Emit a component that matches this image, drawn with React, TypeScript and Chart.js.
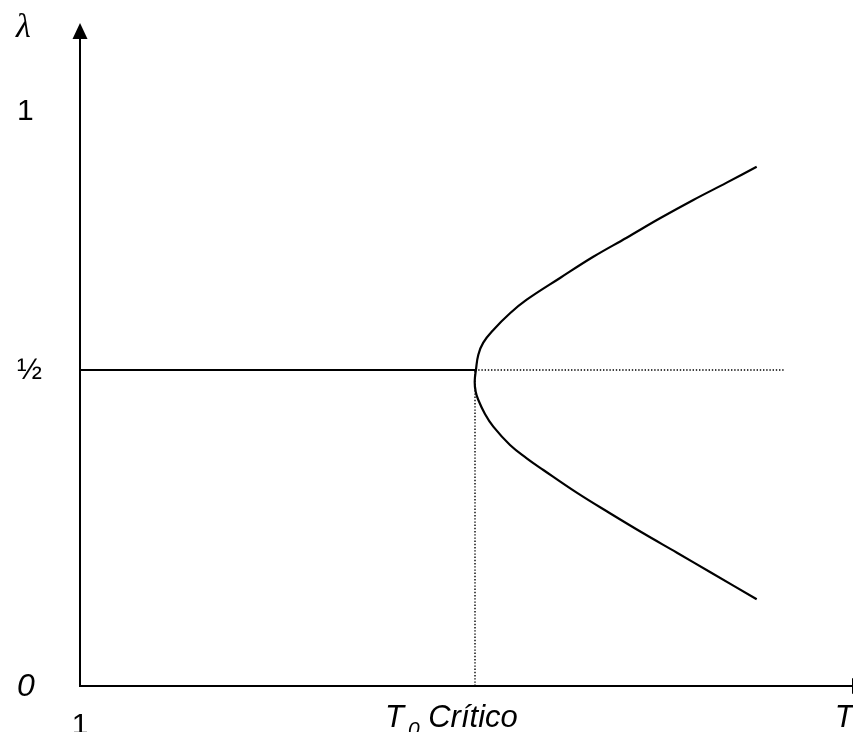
import React, { useEffect, useRef } from 'react';
import { Chart, registerables } from 'chart.js';

Chart.register(...registerables);

// ---- data (arbitrary T units 0..100, lambda units) ----
const upperBranchT = [87.54, 83.66, 79.34, 75.03, 70.72, 66.4, 62.1, 57.79, 55.63, 53.47, 52.17, 51.53, 51.23];
const upperBranchLambda = [0.8217, 0.7964, 0.769, 0.74, 0.7093, 0.6791, 0.6456, 0.6112, 0.5897, 0.5633, 0.5432, 0.5242, 0.5011];
const lowerBranchT = [51.06, 51.19, 51.53, 52.39, 53.47, 55.63, 57.79, 59.94, 64.26, 68.56, 72.87, 77.23, 81.5, 87.54];
const lowerBranchLambda = [0.4815, 0.4657, 0.4525, 0.4304, 0.4103, 0.3813, 0.3603, 0.3418, 0.3059, 0.2733, 0.2416, 0.2109, 0.1804, 0.1372];

const T_MIN = 0;
const T_MAX = 100;
const T_CRITICO = 51.1;
const DOTTED_END = 91.2;
const LAMBDA_HALF = 0.5;
const LAMBDA_MAX = 1.049;

const yTickValues = [0, 0.5, 0.91];
const yTickLabels = ['0', '½', '1'];
const xTickValues = [0, T_CRITICO, 98.8];
const xTickLabels = ['1', 'T0 Crítico', 'T'];

const SANS = '"Liberation Sans", Arial, sans-serif';

const axesPlugin = {
  id: 'axesPlugin',
  afterDatasetsDraw(chart: any) {
    const { ctx, scales } = chart;
    const x = scales.x;
    const y = scales.y;
    const x0 = x.getPixelForValue(T_MIN);
    const y0 = y.getPixelForValue(0);
    const yTop = y.getPixelForValue(LAMBDA_MAX);
    const xr = x.getPixelForValue(T_MAX);
    ctx.save();
    ctx.strokeStyle = '#000';
    ctx.fillStyle = '#000';
    ctx.lineWidth = 2;
    // y axis with arrow
    ctx.beginPath();
    ctx.moveTo(x0, y0 + 1);
    ctx.lineTo(x0, yTop + 15);
    ctx.stroke();
    ctx.beginPath();
    ctx.moveTo(x0, yTop);
    ctx.lineTo(x0 - 7.5, yTop + 16);
    ctx.lineTo(x0 + 7.5, yTop + 16);
    ctx.closePath();
    ctx.fill();
    // x axis with arrow
    ctx.beginPath();
    ctx.moveTo(x0 - 1, y0);
    ctx.lineTo(xr, y0);
    ctx.stroke();
    ctx.beginPath();
    ctx.moveTo(xr - 1, y0 - 8);
    ctx.lineTo(xr + 15, y0);
    ctx.lineTo(xr - 1, y0 + 8);
    ctx.closePath();
    ctx.fill();

    // y tick labels
    ctx.textBaseline = 'middle';
    ctx.textAlign = 'left';
    yTickValues.forEach((v, i) => {
      const lab = yTickLabels[i];
      ctx.font = lab === '0' ? 'italic 32px ' + SANS : '30px ' + SANS;
      ctx.fillText(lab, x0 - 63, y.getPixelForValue(v) + 1);
    });
    // lambda axis title
    ctx.font = 'italic 34px "Liberation Serif", "DejaVu Serif", serif';
    ctx.textBaseline = 'alphabetic';
    ctx.fillText('λ', x0 - 64, yTop + 14);

    // x tick labels
    xTickValues.forEach((v, i) => {
      const lab = xTickLabels[i];
      const px = x.getPixelForValue(v);
      if (lab === '1') {
        ctx.font = '30px ' + SANS;
        ctx.textAlign = 'center';
        ctx.fillText(lab, px, y0 + 48);
      } else if (lab.startsWith('T0')) {
        ctx.textAlign = 'left';
        let cx = px - 90;
        ctx.font = 'italic 31px ' + SANS;
        ctx.fillText('T', cx, y0 + 41);
        cx += ctx.measureText('T').width + 4;
        ctx.font = 'italic 21px ' + SANS;
        ctx.fillText('0', cx, y0 + 50);
        cx += ctx.measureText('0').width;
        ctx.font = 'italic 31px ' + SANS;
        ctx.fillText(lab.slice(2), cx, y0 + 41);
      } else {
        ctx.font = 'italic 31px ' + SANS;
        ctx.textAlign = 'left';
        ctx.fillText(lab, px - 9, y0 + 41);
      }
    });
    ctx.restore();
  },
};

export default function App() {
  const ref = useRef<HTMLCanvasElement | null>(null);
  useEffect(() => {
    if (!ref.current) return;
    const branch = [
      ...upperBranchT.map((t, i) => ({ x: t, y: upperBranchLambda[i] })),
      ...lowerBranchT.map((t, i) => ({ x: t, y: lowerBranchLambda[i] })),
    ];
    const common = { showLine: true, pointRadius: 0, borderColor: '#000', clip: false as any };
    const chart = new Chart(ref.current, {
      type: 'scatter',
      data: {
        datasets: [
          {
            ...common,
            data: [
              { x: T_MIN, y: LAMBDA_HALF },
              { x: T_CRITICO, y: LAMBDA_HALF },
            ],
            borderWidth: 2,
          },
          { ...common, data: branch, borderWidth: 2.2, tension: 0.4 },
          {
            ...common,
            data: [
              { x: T_CRITICO, y: LAMBDA_HALF },
              { x: DOTTED_END, y: LAMBDA_HALF },
            ],
            borderWidth: 1.4,
            borderDash: [1.4, 1.8],
          },
          {
            ...common,
            data: [
              { x: T_CRITICO, y: 0 },
              { x: T_CRITICO, y: LAMBDA_HALF },
            ],
            borderWidth: 1.4,
            borderDash: [1.4, 1.8],
          },
        ] as any,
      },
      options: {
        animation: false,
        responsive: false,
        events: [],
        layout: { padding: { left: 80, top: 23, right: 0, bottom: 46 } },
        scales: {
          x: { type: 'linear', display: false, min: T_MIN, max: T_MAX },
          y: { type: 'linear', display: false, min: 0, max: LAMBDA_MAX },
        },
        plugins: { legend: { display: false }, tooltip: { enabled: false } },
      },
      plugins: [axesPlugin],
    });
    return () => chart.destroy();
  }, []);
  return (
    <div style={{ position: 'absolute', left: 0, top: 0, width: 853, height: 732, background: '#fff' }}>
      <canvas ref={ref} width={853} height={732} style={{ display: 'block' }} />
    </div>
  );
}
